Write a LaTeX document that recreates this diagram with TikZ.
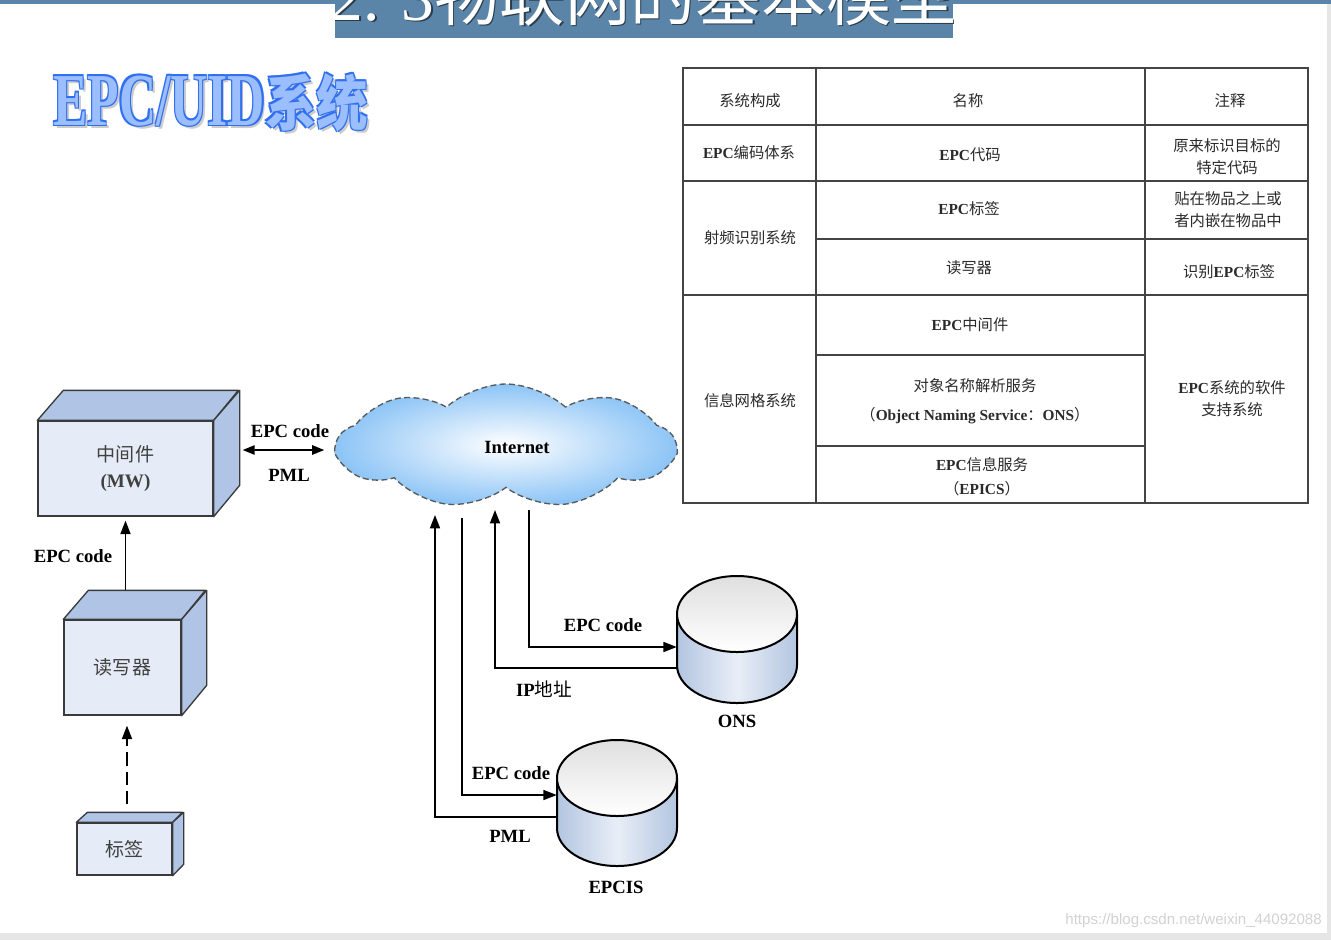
\documentclass[tikz,border=0pt]{standalone}
\usepackage{fontspec}
\setmainfont{Liberation Serif}
\newfontfamily\cjk{Noto Sans CJK SC}
\newfontfamily\wmfont{Liberation Sans}
\usetikzlibrary{arrows.meta,shapes.symbols,shapes.geometric}
\definecolor{titleblue}{HTML}{5A85A8}
\definecolor{cubefront}{HTML}{E6ECF7}
\definecolor{cubeside}{HTML}{B0C5E5}
\definecolor{edgecol}{HTML}{3A3A3A}
\definecolor{cloudblue}{HTML}{8CC4F6}
\definecolor{cylside}{HTML}{B3C5E0}
\definecolor{cylmid}{HTML}{E8EEF7}
\definecolor{tabline}{HTML}{444444}
\definecolor{tabtext}{HTML}{2A2A2A}
\definecolor{epcblue}{HTML}{3070F0}
\definecolor{epclight}{HTML}{9BBEFF}
\definecolor{pagegray}{HTML}{E6E6E6}
\definecolor{wmgray}{HTML}{D2D2D2}
\newcommand{\zh}[1]{{\cjk\mdseries #1}}
\newcommand{\eb}[1]{{\rmfamily\bfseries #1}}
\newcommand{\epctext}{\scalebox{0.69}[1]{\fontsize{56}{60}\selectfont\bfseries EPC/UID\scalebox{1}[0.8]{\cjk\bfseries 系统}}}
\newcommand{\dbcyl}[3]{%
  \shade[left color=cylside, right color=cylside, middle color=cylmid]
    (#1-60,#2) -- (#1-60,#3) arc[start angle=180,end angle=360,x radius=45pt,y radius=28.5pt] -- (#1+60,#2) -- cycle;
  \draw[line width=1.5pt, line join=round]
    (#1-60,#2) -- (#1-60,#3) arc[start angle=180,end angle=360,x radius=45pt,y radius=28.5pt] -- (#1+60,#2);
  \filldraw[line width=1.5pt, top color=gray!25, bottom color=white] (#1,#2) ellipse[x radius=45pt,y radius=28.5pt];
}
\begin{document}
\begin{tikzpicture}[x=0.75pt,y=-0.75pt,
  arr/.style={-{Triangle[length=10pt,width=7.5pt]}, line width=1.2pt},
  dblarr/.style={{Triangle[length=9pt,width=7pt]}-{Triangle[length=9pt,width=7pt]}, line width=1.2pt},
  front/.style={draw=edgecol, line width=1pt, fill=cubefront, inner sep=0pt, align=center,
     font=\fontsize{14.3}{20}\selectfont\cjk, text=black!75},
  face/.style={draw=edgecol, line width=1pt, fill=cubeside, line join=round},
  lbl/.style={font=\fontsize{14}{16}\selectfont\bfseries, inner sep=0pt},
  cell/.style={font=\fontsize{11.5}{16.5}\selectfont, text=tabtext, align=center, inner sep=0pt},
  tline/.style={draw=tabline, line width=1pt},
]
\useasboundingbox (0,0) rectangle (1331,940);
\fill[pagegray] (0,0) rectangle (1331,940);
\fill[white] (0,0) rectangle (1327,933);

% title bar
\fill[titleblue] (0,0) rectangle (1331,3.5);
\fill[titleblue] (335,0) rectangle (953,38);
\begin{scope}
  \clip (335,0) rectangle (953,38);
  \node[anchor=base, inner sep=0pt, text=titleblue!45!black, font=\fontsize{49}{52}\selectfont] (titlesh) at (645.5,21.5)
    {{\rmfamily 2. 3}{\cjk 物联网的基本模型}};
  \node[anchor=base, inner sep=0pt, text=white, font=\fontsize{49}{52}\selectfont] (title) at (644,20)
    {{\rmfamily 2. 3}{\cjk 物联网的基本模型}};
\end{scope}

% EPC/UID title
\node[anchor=base west, inner sep=0pt, text=gray!40] (epcsh) at (56,128) {\epctext};
\foreach \dx/\dy [count=\i] in {-1.2/-1.2,1.2/-1.2,-1.2/1.2,1.2/1.2}
  \node[anchor=base west, inner sep=0pt, text=epcblue] (epco\i) at (53+\dx,125+\dy) {\epctext};
\node[anchor=base west, inner sep=0pt, text=epclight] (epcuid) at (53,125) {\epctext};

% table
\draw[tline] (683,68) rectangle (1308,503);
\draw[tline] (816,68) -- (816,503);
\draw[tline] (1145,68) -- (1145,503);
\draw[tline] (683,125) -- (1308,125);
\draw[tline] (683,181) -- (1308,181);
\draw[tline] (683,295) -- (1308,295);
\draw[tline] (816,239) -- (1308,239);
\draw[tline] (816,355) -- (1145,355);
\draw[tline] (816,446) -- (1145,446);
\node[cell] (h1) at (750,101) {\zh{系统构成}};
\node[cell] (h2) at (968,101) {\zh{名称}};
\node[cell] (h3) at (1230,101) {\zh{注释}};
\node[cell] (r1a) at (749,153) {\eb{EPC}\zh{编码体系}};
\node[cell] (r1b) at (970,155) {\eb{EPC}\zh{代码}};
\node[cell] (r1c) at (1227,157) {\zh{原来标识目标的}\\\zh{特定代码}};
\node[cell] (r2a) at (750,238) {\zh{射频识别系统}};
\node[cell] (r2b) at (969,209) {\eb{EPC}\zh{标签}};
\node[cell] (r2c) at (969,268) {\zh{读写器}};
\node[cell] (r2d) at (1228,210) {\zh{贴在物品之上或}\\\zh{者内嵌在物品中}};
\node[cell] (r2e) at (1229,272) {\zh{识别}\eb{EPC}\zh{标签}};
\node[cell] (r3a) at (750,401) {\zh{信息网格系统}};
\node[cell] (r3b) at (970,325) {\eb{EPC}\zh{中间件}};
\node[cell, font=\fontsize{11.5}{22}\selectfont] (r3c) at (975,401)
  {\zh{对象名称解析服务}\\\zh{（}\eb{Object Naming Service}\zh{：}\eb{ONS}\zh{）}};
\node[cell, font=\fontsize{11.5}{18}\selectfont] (r3d) at (982,477) {\eb{EPC}\zh{信息服务}\\\zh{（}\eb{EPICS}\zh{）}};
\node[cell] (r3e) at (1232,399) {\eb{EPC}\zh{系统的软件}\\\zh{支持系统}};

% cubes
\node[front, minimum width=131.25pt, minimum height=71.25pt] (mw) at (125.5,468.5)
  {中间件\\{\rmfamily\bfseries (MW)}};
\filldraw[face] (mw.north west) -- ++(26,-30) -- ++(175,0) -- (mw.north east) -- cycle;
\filldraw[face] (mw.north east) -- ++(26,-30) -- ++(0,95) -- (mw.south east) -- cycle;

\node[front, minimum width=87.75pt, minimum height=71.25pt] (rd) at (122.5,667.5) {读写器};
\filldraw[face] (rd.north west) -- ++(25,-29) -- ++(117,0) -- (rd.north east) -- cycle;
\filldraw[face] (rd.north east) -- ++(25,-29) -- ++(0,95) -- (rd.south east) -- cycle;

\node[front, minimum width=71.25pt, minimum height=39pt] (tag) at (124.5,849) {标签};
\filldraw[face] (tag.north west) -- ++(11,-10) -- ++(95,0) -- (tag.north east) -- cycle;
\filldraw[face] (tag.north east) -- ++(11,-10) -- ++(0,52) -- (tag.south east) -- cycle;

% cloud
\node[cloud, cloud puffs=9, cloud puff arc=85, aspect=2.7, minimum width=253.5pt, minimum height=93pt,
  draw=gray!70!black, line width=1pt, dash pattern=on 4.5pt off 2.5pt,
  inner color=white, outer color=cloudblue, inner sep=0pt] (cloud) at (506,446) {};
\node[lbl] (inet) at (517,447) {Internet};

% cylinders
\node[minimum width=90pt, minimum height=94.5pt, inner sep=0pt] (ons) at (737,640) {};
\dbcyl{737}{614}{665}
\node[minimum width=90pt, minimum height=97.5pt, inner sep=0pt] (epcis) at (617,803) {};
\dbcyl{617}{778}{828}

% connectors
\draw[arr] ([shift={(3,-29)}]rd.north) -- ([yshift=-3pt]mw.south);
\draw[arr, dash pattern=on 10pt off 4.5pt] ([shift={(2.5,-18)}]tag.north) -- ([shift={(4.5,10)}]rd.south);
\draw[dblarr] ([shift={(29,-18.5)}]mw.east) -- ([shift={(-10,4)}]cloud.west);

\coordinate (cpml) at (435,515);
\coordinate (cepc2) at (462,518);
\coordinate (cip) at (495,510);
\coordinate (cons) at (529,510);
\draw[arr] ([yshift=-10.5pt]epcis.west) -| (cpml);
\draw[arr] (cepc2) |- ([yshift=6pt]epcis.west);
\draw[arr] ([yshift=-21pt]ons.west) -| (cip);
\draw[arr] (cons) |- ([yshift=-5.25pt]ons.west);

% labels
\node[lbl] (l1) at (73,556) {EPC code};
\node[lbl] (l2) at (290,431) {EPC code};
\node[lbl] (l3) at (289,475) {PML};
\node[lbl] (l4) at (603,625) {EPC code};
\node[lbl] (l5) at (544,689) {IP\zh{地址}};
\node[lbl] (l6) at (737,721) {ONS};
\node[lbl] (l7) at (511,773) {EPC code};
\node[lbl] (l8) at (510,836) {PML};
\node[lbl] (l9) at (616,887) {EPCIS};

\node[anchor=east, inner sep=0pt, text=wmgray, font=\wmfont\fontsize{11.3}{13}\selectfont] (wm) at (1322,921)
  {https://blog.csdn.net/weixin\_44092088};
\end{tikzpicture}
\end{document}
